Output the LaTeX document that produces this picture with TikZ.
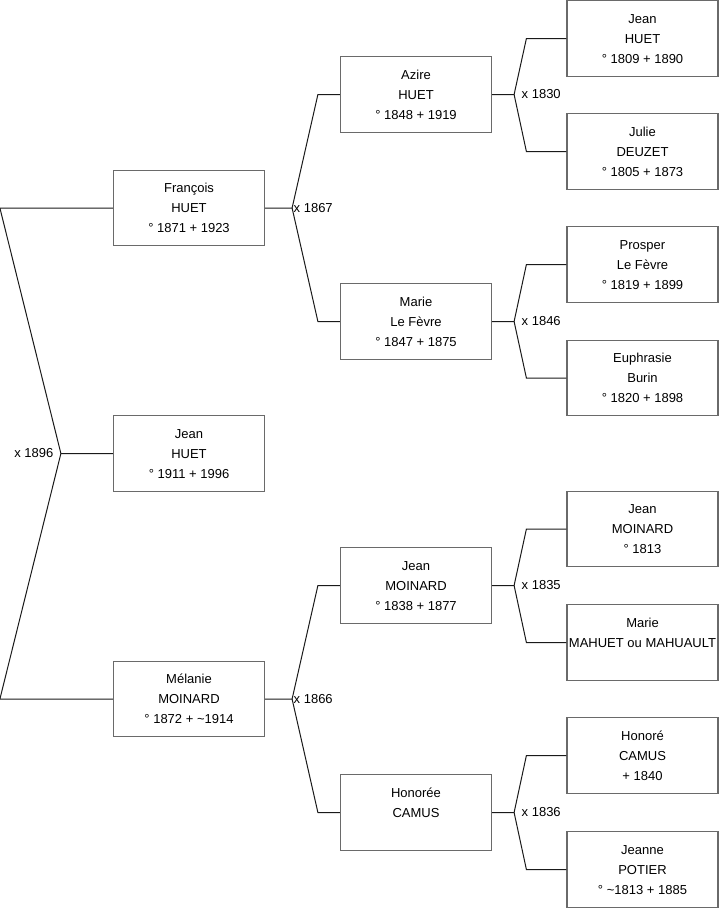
\documentclass[tikz,border=0pt]{standalone}
\usepackage{fontspec}
\setmainfont{Liberation Sans}
\usepackage{tikz}
\definecolor{boxgray}{HTML}{6A6A6A}
\definecolor{linkgray}{HTML}{1A1A1A}
\newcommand{\fiche}[1]{\parbox[c][44pt][t]{113pt}{\centering\strut#1}}

\begin{document}
\begin{tikzpicture}[x=0.75pt,y=-0.75pt,
    font=\fontsize{9.75}{15}\selectfont,
    personne/.style={draw=boxgray,line width=.9pt,fill=white,inner xsep=0pt,
      inner ysep=6.4pt,minimum width=113.25pt,minimum height=56.25pt},
    lien/.style={draw=linkgray,line width=.75pt},
    union/.style={inner sep=1pt}]
  \useasboundingbox (0,0) rectangle (719,908);

  % generation 1
  \node[personne] (francois) at (189,208) {\fiche{François\\HUET\\° 1871 + 1923}};
  \node[personne] (jean) at (189,453.5) {\fiche{Jean\\HUET\\° 1911 + 1996}};
  \node[personne] (melanie) at (189,699) {\fiche{Mélanie\\MOINARD\\° 1872 + \textasciitilde1914}};

  % generation 2
  \node[personne] (azire) at (416,94.5) {\fiche{Azire\\HUET\\° 1848 + 1919}};
  \node[personne] (marie) at (416,321.5) {\fiche{Marie\\Le Fèvre\\° 1847 + 1875}};
  \node[personne] (jeanM) at (416,585.5) {\fiche{Jean\\MOINARD\\° 1838 + 1877}};
  \node[personne] (honoree) at (416,812.5) {\fiche{Honorée\\CAMUS}};

  % generation 3
  \node[personne] (jeanH) at (642.5,38.5) {\fiche{Jean\\HUET\\° 1809 + 1890}};
  \node[personne] (julie) at (642.5,151.5) {\fiche{Julie\\DEUZET\\° 1805 + 1873}};
  \node[personne] (prosper) at (642.5,264.5) {\fiche{Prosper\\Le Fèvre\\° 1819 + 1899}};
  \node[personne] (euphrasie) at (642.5,378) {\fiche{Euphrasie\\Burin\\° 1820 + 1898}};
  \node[personne] (jeanMo) at (642.5,529) {\fiche{Jean\\MOINARD\\° 1813}};
  \node[personne] (marieM) at (642.5,642.5) {\fiche{Marie\\MAHUET ou MAHUAULT}};
  \node[personne] (honore) at (642.5,755.5) {\fiche{Honoré\\CAMUS\\+ 1840}};
  \node[personne] (jeanne) at (642.5,869.5) {\fiche{Jeanne\\POTIER\\° \textasciitilde1813 + 1885}};

  % mariage des parents
  \coordinate (u1896) at ([xshift=-39pt]jean.west);
  \draw[lien] (jean.west) -- (u1896) -- ([xshift=-84.75pt]francois.west) -- (francois.west);
  \draw[lien] (u1896) -- ([xshift=-84.75pt]melanie.west) -- (melanie.west);
  \node[union,left] at ([xshift=-4.5pt]u1896) {x 1896};

  % grands-parents
  \foreach \enf/\an/\pere/\mere in {francois/1867/azire/marie,melanie/1866/jeanM/honoree}{
    \coordinate (u\an) at ([xshift=20.25pt]\enf.east);
    \draw[lien] (\enf.east) -- (u\an) -- ([xshift=-16.5pt]\pere.west) -- (\pere.west);
    \draw[lien] (u\an) -- ([xshift=-16.5pt]\mere.west) -- (\mere.west);
    \node[union,right] at (u\an) {x \an};
  }

  % arriere-grands-parents
  \foreach \enf/\an/\pere/\mere in {azire/1830/jeanH/julie,marie/1846/prosper/euphrasie,
      jeanM/1835/jeanMo/marieM,honoree/1836/honore/jeanne}{
    \coordinate (u\an) at ([xshift=16.5pt]\enf.east);
    \draw[lien] (\enf.east) -- (u\an) -- ([xshift=-30pt]\pere.west) -- (\pere.west);
    \draw[lien] (u\an) -- ([xshift=-30pt]\mere.west) -- (\mere.west);
    \node[union,right] at ([xshift=4.5pt]u\an) {x \an};
  }
\end{tikzpicture}
\end{document}
